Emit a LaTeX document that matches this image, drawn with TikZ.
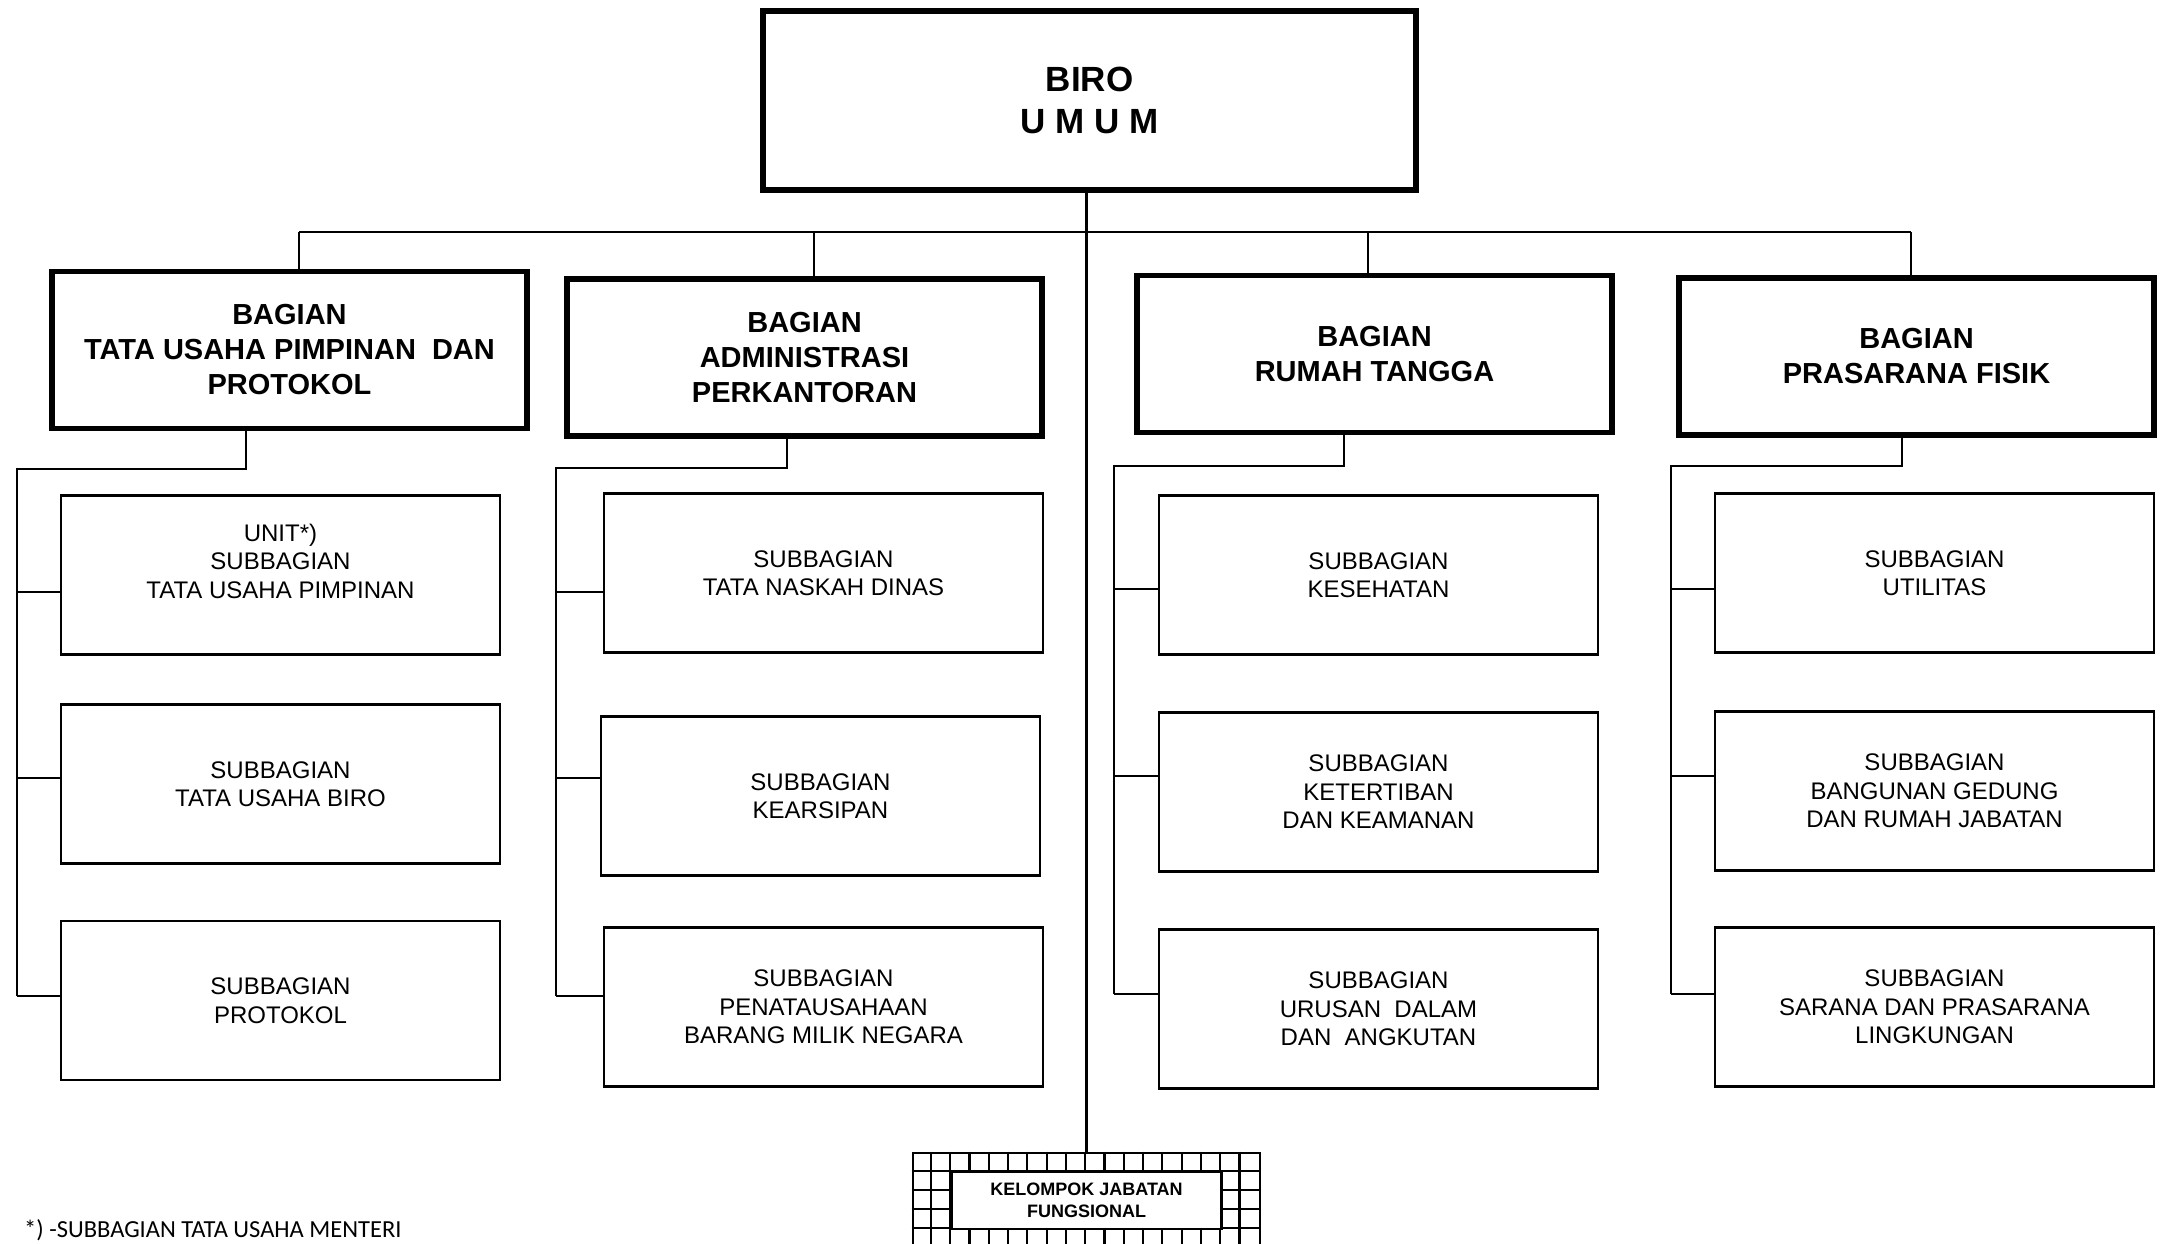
\documentclass[tikz,border=0pt]{standalone}
\usepackage{fontspec}
\setmainfont{Liberation Sans}
\newfontfamily\notefont{Carlito}
\begin{document}
\begin{tikzpicture}[x=1pt,y=-1pt,
  conn/.style={line width=2.3pt},
  topbox/.style={draw,line width=6.5pt,minimum width=653pt,minimum height=179pt,align=center,inner sep=0pt,
    font=\fontsize{35}{42}\selectfont\bfseries,execute at begin node={\rule{0pt}{35.5pt}}},
  bagbox/.style={draw,line width=5.5pt,minimum width=475pt,minimum height=157pt,align=center,inner sep=0pt,
    font=\fontsize{29}{35}\selectfont\bfseries,execute at begin node={\rule{0pt}{30.5pt}}},
  subbox/.style={draw,line width=2.6pt,minimum width=439pt,minimum height=159pt,align=center,inner sep=0pt,
    font=\fontsize{24}{28.5}\selectfont},
  subtext/.style={align=center,inner sep=0pt,font=\fontsize{24}{28.5}\selectfont},
  gridline/.style={line width=2.2pt},
]
\useasboundingbox (0,0) rectangle (2164,1243);

% head of the bureau
\node[topbox] (biro) at (1089.5,100.5) {BIRO\\U M U M};

% divisions
\node[bagbox] (b1) at (289.5,350)   {BAGIAN\\TATA USAHA PIMPINAN\ \ DAN\\PROTOKOL};
\node[bagbox] (b2) at (804.5,357.5) {BAGIAN\\ADMINISTRASI\\PERKANTORAN};
\node[bagbox] (b3) at (1374.5,354)  {BAGIAN\\RUMAH TANGGA};
\node[bagbox] (b4) at (1916.5,356.5){BAGIAN\\PRASARANA FISIK};

% sub-divisions, column 1 (first box has its text set a little above centre)
\node[subbox] (u11) at (280.5,575) {};
\node[subtext] (u11t) at ([yshift=14pt]u11.center) {UNIT*)\\SUBBAGIAN\\TATA USAHA PIMPINAN};
\node[subbox] (u12) at (280.5,784)    {SUBBAGIAN\\TATA USAHA BIRO};
\node[subbox] (u13) at (280.5,1000.5) {SUBBAGIAN\\PROTOKOL};
% column 2
\node[subbox] (u21) at (823.5,573)  {SUBBAGIAN\\TATA NASKAH DINAS};
\node[subbox] (u22) at (820.5,796)  {SUBBAGIAN\\KEARSIPAN};
\node[subbox] (u23) at (823.5,1007) {SUBBAGIAN\\PENATAUSAHAAN\\BARANG MILIK NEGARA};
% column 3
\node[subbox] (u31) at (1378.5,575)  {SUBBAGIAN\\KESEHATAN};
\node[subbox] (u32) at (1378.5,792)  {SUBBAGIAN\\KETERTIBAN\\DAN KEAMANAN};
\node[subbox] (u33) at (1378.5,1009) {SUBBAGIAN\\URUSAN\ \ DALAM\\DAN\ \ ANGKUTAN};
% column 4
\node[subbox] (u41) at (1934.5,573)  {SUBBAGIAN\\UTILITAS};
\node[subbox] (u42) at (1934.5,791)  {SUBBAGIAN\\BANGUNAN GEDUNG\\DAN RUMAH JABATAN};
\node[subbox] (u43) at (1934.5,1007) {SUBBAGIAN\\SARANA DAN PRASARANA\\LINGKUNGAN};

% functional group box with grid border
\node[draw,line width=2.6pt,minimum width=347pt,minimum height=112pt,inner sep=0pt] (kjf) at (1086.5,1209) {};
\begin{scope}
  \clip (kjf.north west) rectangle (kjf.south east);
  \foreach \i in {1,...,17}
    \draw[gridline] ([xshift=\i*19.28pt]kjf.north west) -- ([xshift=\i*19.28pt]kjf.south west);
  \foreach \j in {1,...,5}
    \draw[gridline] ([yshift=-\j*19.1pt]kjf.north west) -- ([yshift=-\j*19.1pt]kjf.north east);
\end{scope}
\node[draw,fill=white,line width=2.4pt,minimum width=270pt,minimum height=57pt,inner sep=0pt,align=center,
  font=\fontsize{18}{22}\selectfont\bfseries] (kjftext) at (1086.5,1200.5) {KELOMPOK JABATAN\\FUNGSIONAL};

% footnote
\node[anchor=base west,inner sep=0pt,font=\notefont\fontsize{24.5}{28}\selectfont] (note) at (24,1237)
  {*) -SUBBAGIAN TATA USAHA MENTERI};

% main bus
\coordinate (busL) at (299,232);
\coordinate (busR) at (1911,232);
\coordinate (bus2) at (814,232);
\coordinate (bus3) at (1368,232);
\draw[conn] (busL) -- (busR);
\draw[conn] (busL) -- (busL |- b1.north);
\draw[conn] (bus2) -- (bus2 |- b2.north);
\draw[conn] (bus3) -- (bus3 |- b3.north);
\draw[conn] (busR) -- (busR |- b4.north);
\draw[conn] (kjf.north |- biro.south) -- (kjf.north);

% column 1 spine
\coordinate (d1) at (246,469);
\coordinate (s1) at (17,469);
\coordinate (t11) at (17,592);
\coordinate (t12) at (17,778);
\coordinate (t13) at (17,996);
\draw[conn] (d1 |- b1.south) -- (d1) -- (s1) -- (t13);
\draw[conn] (t11) -- (t11 -| u11.west);
\draw[conn] (t12) -- (t12 -| u12.west);
\draw[conn] (t13) -- (t13 -| u13.west);

% column 2 spine
\coordinate (d2) at (787,468);
\coordinate (s2) at (556,468);
\coordinate (t21) at (556,592);
\coordinate (t22) at (556,778);
\coordinate (t23) at (556,996);
\draw[conn] (d2 |- b2.south) -- (d2) -- (s2) -- (t23);
\draw[conn] (t21) -- (t21 -| u21.west);
\draw[conn] (t22) -- (t22 -| u22.west);
\draw[conn] (t23) -- (t23 -| u23.west);

% column 3 spine
\coordinate (d3) at (1344,466);
\coordinate (s3) at (1114,466);
\coordinate (t31) at (1114,589);
\coordinate (t32) at (1114,776);
\coordinate (t33) at (1114,994);
\draw[conn] (d3 |- b3.south) -- (d3) -- (s3) -- (t33);
\draw[conn] (t31) -- (t31 -| u31.west);
\draw[conn] (t32) -- (t32 -| u32.west);
\draw[conn] (t33) -- (t33 -| u33.west);

% column 4 spine
\coordinate (d4) at (1902,466);
\coordinate (s4) at (1671,466);
\coordinate (t41) at (1671,589);
\coordinate (t42) at (1671,776);
\coordinate (t43) at (1671,994);
\draw[conn] (d4 |- b4.south) -- (d4) -- (s4) -- (t43);
\draw[conn] (t41) -- (t41 -| u41.west);
\draw[conn] (t42) -- (t42 -| u42.west);
\draw[conn] (t43) -- (t43 -| u43.west);
\end{tikzpicture}
\end{document}
